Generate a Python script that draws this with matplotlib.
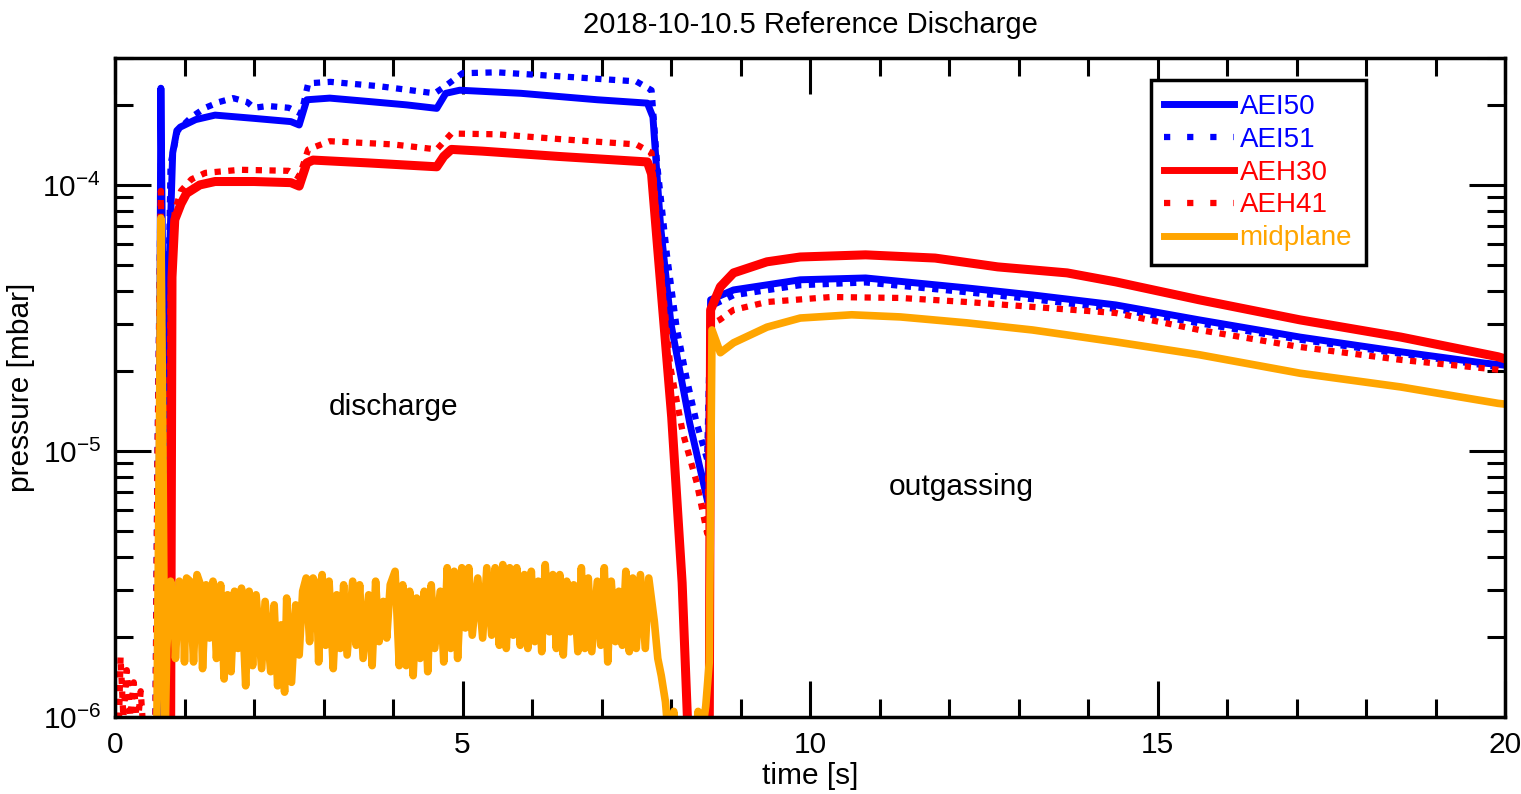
import matplotlib
matplotlib.use("Agg")
import matplotlib.pyplot as plt
from matplotlib.lines import Line2D
from matplotlib.ticker import MultipleLocator, FixedLocator, LogLocator, NullFormatter, FuncFormatter
import numpy as np

plt.rcParams['font.family'] = ['Liberation Sans', 'DejaVu Sans']
plt.rcParams['mathtext.fontset'] = 'custom'
plt.rcParams['mathtext.rm'] = 'Liberation Sans'
plt.rcParams['mathtext.default'] = 'regular'

# ---- data (time in s, pressure in mbar) ----
t_aei50 = [0.0, 0.62, 0.66, 0.70, 0.74, 0.78, 0.83, 0.89, 0.94, 1.16, 1.44, 1.99, 2.53, 2.65,
           2.76, 3.09, 3.64, 4.19, 4.63, 4.76, 4.96, 5.84, 6.94, 7.66, 7.74, 7.85, 8.0, 8.27,
           8.53, 8.57, 8.9, 9.86, 10.8, 12.26, 13.2, 14.4, 15.6, 17.05, 18.5, 19.7, 20.0]
p_aei50 = [8e-7, 8e-7, 2.31e-4, 2.0e-5, 8e-6, 5e-5, 1.32e-4, 1.6e-4, 1.65e-4, 1.76e-4, 1.83e-4,
           1.78e-4, 1.73e-4, 1.68e-4, 2.09e-4, 2.12e-4, 2.06e-4, 2.0e-4, 1.94e-4, 2.21e-4,
           2.27e-4, 2.21e-4, 2.09e-4, 2.03e-4, 1.8e-4, 7e-5, 3.0e-5, 1.27e-5, 6.4e-6, 3.7e-5,
           4.03e-5, 4.4e-5, 4.47e-5, 4.1e-5, 3.86e-5, 3.54e-5, 3.11e-5, 2.68e-5, 2.36e-5,
           2.14e-5, 2.1e-5]

t_aei51 = [0.0, 0.58, 0.61, 0.66, 0.70, 0.76, 0.80, 0.90, 1.10, 1.30, 1.50, 1.70, 1.90, 2.00,
           2.20, 2.50, 2.68, 2.78, 3.10, 3.80, 4.60, 4.75, 5.00, 5.50, 6.50, 7.50, 7.72, 7.80,
           7.94, 8.08, 8.22, 8.37, 8.52, 8.57, 8.9, 9.86, 10.8, 12.26, 13.2, 14.4, 15.6, 17.05,
           18.5, 19.7, 20.0]
p_aei51 = [8e-7, 8e-7, 8.7e-6, 1.2e-4, 1e-5, 3e-5, 1.2e-4, 1.6e-4, 1.8e-4, 1.95e-4, 2.05e-4,
           2.12e-4, 2.05e-4, 1.95e-4, 1.98e-4, 1.95e-4, 1.85e-4, 2.41e-4, 2.44e-4, 2.35e-4,
           2.21e-4, 2.35e-4, 2.63e-4, 2.65e-4, 2.55e-4, 2.45e-4, 2.27e-4, 1.2e-4, 5.5e-5,
           2.92e-5, 1.9e-5, 1.27e-5, 9.3e-6, 3.5e-5, 3.85e-5, 4.2e-5, 4.3e-5, 3.95e-5, 3.72e-5,
           3.42e-5, 3.02e-5, 2.62e-5, 2.32e-5, 2.1e-5, 2.05e-5]

t_aeh30 = [0.0, 0.80, 0.82, 0.86, 0.95, 1.03, 1.22, 1.44, 2.0, 2.53, 2.65, 2.76, 2.85, 3.64,
           4.63, 4.73, 4.84, 5.28, 6.38, 7.66, 7.72, 7.81, 8.01, 8.16, 8.25, 8.55, 8.57, 8.71,
           8.9, 9.38, 9.86, 10.8, 11.8, 12.7, 13.7, 14.4, 15.6, 17.05, 18.5, 19.9, 20.0]
p_aeh30 = [8e-7, 8e-7, 4.5e-5, 7.4e-5, 8.5e-5, 9.3e-5, 1.0e-4, 1.03e-4, 1.03e-4, 1.02e-4,
           9.9e-5, 1.21e-4, 1.24e-4, 1.21e-4, 1.17e-4, 1.28e-4, 1.36e-4, 1.34e-4, 1.28e-4,
           1.22e-4, 1.1e-4, 5.7e-5, 1.34e-5, 3.2e-6, 8e-7, 8e-7, 3.39e-5, 4.14e-5, 4.67e-5,
           5.14e-5, 5.36e-5, 5.46e-5, 5.31e-5, 4.92e-5, 4.67e-5, 4.32e-5, 3.70e-5, 3.11e-5,
           2.68e-5, 2.26e-5, 2.22e-5]

t_aeh41 = [0.0, 0.05, 0.08, 0.12, 0.17, 0.22, 0.27, 0.32, 0.37, 0.42, 0.58, 0.61, 0.66, 0.70,
           0.74, 0.80, 0.86, 0.95, 1.1, 1.3, 1.8, 2.5, 2.65, 2.78, 3.09, 4.0, 4.63, 4.84, 5.5,
           6.5, 7.5, 7.72, 7.85, 7.99, 8.17, 8.37, 8.52, 8.58, 8.7, 8.9, 9.38, 10.3, 11.3,
           12.26, 13.2, 14.4, 15.6, 17.05, 18.5, 19.9, 20.0]
p_aeh41 = [8e-7, 8e-7, 1.68e-6, 1.0e-6, 1.5e-6, 1.0e-6, 1.35e-6, 9e-7, 1.25e-6, 8e-7, 8e-7,
           8.7e-6, 9.5e-5, 1e-5, 2e-6, 4e-5, 8e-5, 9.5e-5, 1.05e-4, 1.11e-4, 1.14e-4, 1.13e-4,
           1.07e-4, 1.36e-4, 1.46e-4, 1.42e-4, 1.36e-4, 1.56e-4, 1.55e-4, 1.48e-4, 1.42e-4,
           1.32e-4, 5e-5, 2.07e-5, 1.17e-5, 7.6e-6, 4.9e-6, 3.0e-5, 3.11e-5, 3.39e-5, 3.63e-5,
           3.79e-5, 3.76e-5, 3.63e-5, 3.48e-5, 3.30e-5, 2.85e-5, 2.46e-5, 2.20e-5, 2.02e-5,
           2.0e-5]

t_mid = [0.0, 0.60, 0.64, 0.66, 0.69, 0.72, 0.745, 0.80, 0.85, 0.87, 0.925, 0.98, 1.00, 1.03,
         1.08, 1.13, 1.18, 1.23, 1.26, 1.31, 1.36, 1.41, 1.46, 1.52, 1.57, 1.62, 1.67, 1.72,
         1.77, 1.82, 1.88, 1.93, 1.98, 2.03, 2.11, 2.16, 2.24, 2.29, 2.34, 2.39, 2.44, 2.47,
         2.54, 2.60, 2.65, 2.70, 2.75, 2.80, 2.85, 2.90, 2.93, 2.98, 3.03, 3.08, 3.14, 3.19,
         3.24, 3.29, 3.34, 3.42, 3.47, 3.52, 3.57, 3.65, 3.70, 3.75, 3.80, 3.86, 3.91, 3.96,
         4.03, 4.09, 4.14, 4.19, 4.24, 4.29, 4.34, 4.39, 4.45, 4.50, 4.55, 4.60, 4.68, 4.73,
         4.78, 4.83, 4.88, 4.93, 4.99, 5.04, 5.09, 5.14, 5.22, 5.29, 5.35, 5.42, 5.47, 5.53,
         5.58, 5.63, 5.68, 5.73, 5.78, 5.83, 5.89, 5.94, 5.99, 6.04, 6.09, 6.14, 6.19, 6.25,
         6.30, 6.35, 6.40, 6.45, 6.50, 6.55, 6.60, 6.66, 6.71, 6.76, 6.81, 6.86, 6.94, 6.99,
         7.04, 7.09, 7.14, 7.20, 7.25, 7.30, 7.35, 7.40, 7.45, 7.50, 7.56, 7.63, 7.68, 7.76,
         7.81, 7.86, 7.92, 7.97, 8.04, 8.08, 8.36, 8.39, 8.43, 8.50, 8.55, 8.59, 8.71, 8.9,
         9.38, 9.86, 10.6, 11.3, 12.26, 13.2, 14.4, 15.6, 17.05, 18.5, 19.9, 20.0]
p_mid = [8e-7, 8e-7, 1.2e-5, 7.5e-5, 1.0e-5, 8e-7, 1.81e-6, 3.24e-6, 2.64e-6, 1.66e-6, 3.24e-6,
         2.80e-6, 1.61e-6, 3.33e-6, 3.24e-6, 1.61e-6, 3.43e-6, 3.14e-6, 1.52e-6, 3.14e-6,
         1.98e-6, 3.24e-6, 1.66e-6, 3.14e-6, 1.39e-6, 2.88e-6, 1.48e-6, 2.97e-6, 1.81e-6,
         3.05e-6, 1.31e-6, 2.97e-6, 1.56e-6, 2.88e-6, 1.52e-6, 2.72e-6, 1.48e-6, 2.64e-6,
         1.31e-6, 2.22e-6, 1.24e-6, 2.80e-6, 1.35e-6, 2.64e-6, 1.71e-6, 2.97e-6, 3.33e-6,
         1.92e-6, 3.33e-6, 3.14e-6, 1.61e-6, 3.43e-6, 1.86e-6, 3.24e-6, 1.52e-6, 2.88e-6,
         1.81e-6, 3.14e-6, 1.71e-6, 3.24e-6, 1.86e-6, 3.14e-6, 1.66e-6, 2.88e-6, 1.56e-6,
         3.24e-6, 1.92e-6, 2.72e-6, 1.98e-6, 3.14e-6, 3.53e-6, 1.56e-6, 3.14e-6, 1.56e-6,
         2.97e-6, 1.43e-6, 2.80e-6, 1.66e-6, 2.97e-6, 1.48e-6, 3.14e-6, 1.81e-6, 2.97e-6,
         1.61e-6, 3.64e-6, 1.81e-6, 3.53e-6, 1.66e-6, 3.64e-6, 2.16e-6, 3.64e-6, 2.03e-6,
         3.33e-6, 1.98e-6, 3.64e-6, 2.03e-6, 3.64e-6, 1.86e-6, 3.74e-6, 1.81e-6, 3.64e-6,
         2.03e-6, 3.64e-6, 1.86e-6, 3.43e-6, 1.81e-6, 3.53e-6, 1.92e-6, 3.24e-6, 1.76e-6,
         3.74e-6, 2.09e-6, 3.43e-6, 1.81e-6, 3.43e-6, 1.71e-6, 3.24e-6, 2.09e-6, 3.14e-6,
         1.76e-6, 3.64e-6, 1.81e-6, 3.33e-6, 1.76e-6, 3.24e-6, 1.86e-6, 3.64e-6, 1.61e-6,
         3.24e-6, 1.92e-6, 2.97e-6, 1.86e-6, 3.53e-6, 1.76e-6, 3.33e-6, 1.81e-6, 3.43e-6,
         1.81e-6, 3.33e-6, 2.29e-6, 1.66e-6, 1.43e-6, 1.14e-6, 8e-7, 1.05e-6, 8e-7, 8e-7,
         1.05e-6, 8e-7, 1.1e-6, 1.6e-6, 2.85e-5, 2.34e-5, 2.55e-5, 2.92e-5, 3.16e-5, 3.25e-5,
         3.19e-5, 3.03e-5, 2.85e-5, 2.57e-5, 2.30e-5, 1.96e-5, 1.74e-5, 1.51e-5, 1.50e-5]

labels = ['AEI50', 'AEI51', 'AEH30', 'AEH41', 'midplane']
colors = ['blue', 'blue', 'red', 'red', 'orange']

fig = plt.figure(figsize=(15.21, 7.94), dpi=100)
ax = fig.add_axes([115 / 1521, 77 / 794, 1390 / 1521, 659 / 794])

dense_dot = (0, (1.0, 1.2))
ax.plot(t_aei50, p_aei50, color='blue', lw=5)
ax.plot(t_aei51, p_aei51, color='blue', lw=4.5, linestyle=dense_dot)
ax.plot(t_aeh30, p_aeh30, color='red', lw=6.5)
ax.plot(t_aeh41, p_aeh41, color='red', lw=4.5, linestyle=dense_dot)
ax.plot(t_mid, p_mid, color='orange', lw=5.5)

ax.set_yscale('log')
ax.set_xlim(0, 20)
ax.set_ylim(1e-6, 3e-4)

ax.xaxis.set_major_locator(MultipleLocator(5))
ax.xaxis.set_minor_locator(MultipleLocator(1))
ax.yaxis.set_major_locator(FixedLocator([1e-6, 1e-5, 1e-4]))
ax.yaxis.set_minor_locator(LogLocator(base=10, subs=range(2, 10)))
ax.yaxis.set_minor_formatter(NullFormatter())
ax.yaxis.set_major_formatter(FuncFormatter(lambda v, p: r'$10^{%d}$' % round(np.log10(v))))

ax.tick_params(which='both', direction='in', top=True, right=True, width=2.2,
               labelsize=21.5, pad=10)
ax.tick_params(which='major', length=26)
ax.tick_params(which='minor', length=13)
for s in ax.spines.values():
    s.set_linewidth(2.5)

ax.set_title('2018-10-10.5 Reference Discharge', fontsize=21, pad=18)
ax.set_xlabel('time [s]', fontsize=21.5, labelpad=2)
ax.set_ylabel('pressure [mbar]', fontsize=21.5, labelpad=5)

ax.text(4.01, 1.46e-5, 'discharge', ha='center', va='center', fontsize=21.5)
ax.text(12.17, 7.3e-6, 'outgassing', ha='center', va='center', fontsize=21.5)

handles = [Line2D([], [], color='blue', lw=5),
           Line2D([], [], color='blue', lw=4.5, linestyle=(0, (1, 2.7))),
           Line2D([], [], color='red', lw=5),
           Line2D([], [], color='red', lw=4.5, linestyle=(0, (1, 2.7))),
           Line2D([], [], color='orange', lw=5)]
leg = ax.legend(handles, labels, loc='upper left', bbox_to_anchor=(0.745, 0.967),
                frameon=True, fancybox=False, edgecolor='black', framealpha=1,
                fontsize=20, handlelength=2.5, handletextpad=0.2, labelspacing=0.25,
                borderpad=0.5, borderaxespad=0)
leg.get_frame().set_linewidth(2.5)
for txt, c in zip(leg.get_texts(), colors):
    txt.set_color(c)

fig.savefig('out.png', dpi=100)
